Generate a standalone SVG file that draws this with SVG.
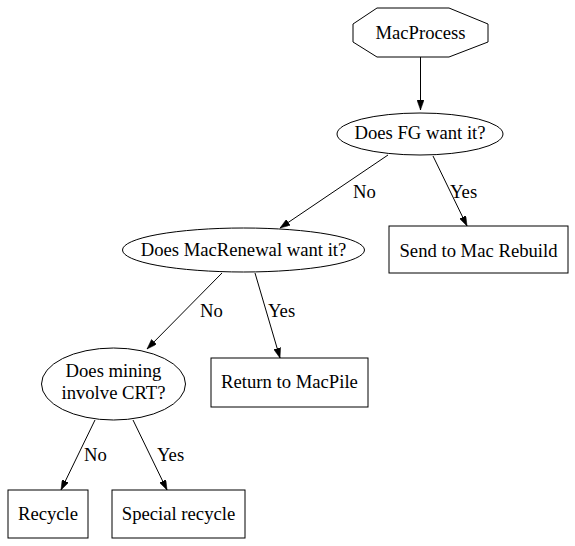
<svg xmlns="http://www.w3.org/2000/svg" width="575" height="546" viewBox="0 0 575 546">
<style>
.shape{fill:#ffffff;stroke:#000000;stroke-width:1}
.edge{fill:none;stroke:#000000;stroke-width:1;marker-end:url(#arr)}
text{font-family:"Liberation Serif","Times New Roman",serif;font-size:18.67px;fill:#000000}
.c{text-anchor:middle}
</style>
<defs>
<marker id="arr" markerUnits="userSpaceOnUse" markerWidth="10" markerHeight="7" refX="10" refY="3.5" orient="auto">
<path d="M0,0 L10,3.5 L0,7 z" fill="#000000" stroke="#000000" stroke-width="0.5"/>
</marker>
</defs>
<rect width="575" height="546" fill="#ffffff"/>
<g id="connectors">
<line class="edge" x1="420.5" y1="57" x2="420.5" y2="110"/>
<line class="edge" x1="388" y1="155" x2="280" y2="228"/>
<text x="353" y="198">No</text>
<line class="edge" x1="433" y1="156" x2="467" y2="226"/>
<text x="450" y="198">Yes</text>
<line class="edge" x1="222" y1="273" x2="147" y2="349"/>
<text x="200" y="317">No</text>
<line class="edge" x1="255" y1="273" x2="280" y2="358"/>
<text x="268" y="317">Yes</text>
<line class="edge" x1="95" y1="420" x2="61" y2="490"/>
<text x="84" y="461">No</text>
<line class="edge" x1="133" y1="420" x2="167" y2="490"/>
<text x="157" y="461">Yes</text>
</g>
<g id="MacProcess">
<polygon class="shape" points="377,8 449,8 488,24 488,42 449,57 377,57 353,42 353,24"/>
<text class="c" x="420.5" y="39">MacProcess</text>
</g>
<g id="FG">
<ellipse class="shape" cx="420" cy="134" rx="83" ry="21"/>
<text class="c" x="420" y="138.5">Does FG want it?</text>
</g>
<g id="SendRebuild">
<rect class="shape" x="389" y="226" width="179" height="47"/>
<text class="c" x="478.5" y="257">Send to Mac Rebuild</text>
</g>
<g id="MacRenewal">
<ellipse class="shape" cx="243.5" cy="250" rx="121" ry="22"/>
<text class="c" x="243.5" y="256">Does MacRenewal want it?</text>
</g>
<g id="ReturnMacPile">
<rect class="shape" x="211" y="358" width="157" height="49"/>
<text class="c" x="289.5" y="388">Return to MacPile</text>
</g>
<g id="Mining">
<ellipse class="shape" cx="113.5" cy="384" rx="72" ry="36"/>
<text class="c" x="113.5" y="377">Does mining</text>
<text class="c" x="113.5" y="399">involve CRT?</text>
</g>
<g id="Recycle">
<rect class="shape" x="8" y="490" width="80" height="48"/>
<text class="c" x="48" y="520">Recycle</text>
</g>
<g id="SpecialRecycle">
<rect class="shape" x="112" y="490" width="133" height="48"/>
<text class="c" x="178.5" y="520">Special recycle</text>
</g>
</svg>
